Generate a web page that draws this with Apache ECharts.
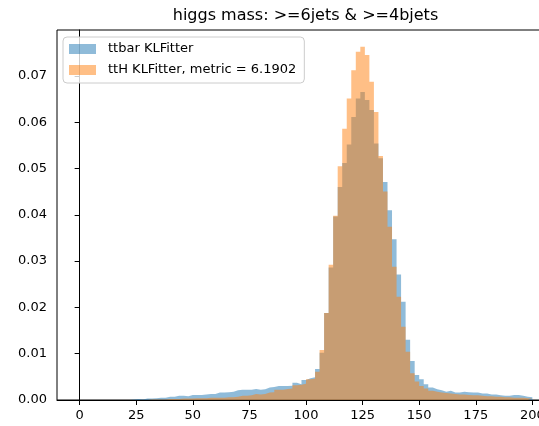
<!DOCTYPE html>
<html>
<head>
<meta charset="utf-8">
<script src="https://cdn.jsdelivr.net/npm/echarts@6/dist/echarts.min.js"></script>
<style>
html, body { margin:0; padding:0; width:539px; height:426px; overflow:hidden; background:#ffffff; }
#container { width:611px; height:426px; }
</style>
</head>
<body>
<div id="container"></div>
<script>
// histogram bins: 100 bins of width 2 from 0 to 200
var bin_start = 0;
var bin_width = 2;

// ttbar KLFitter, normalised bin heights
var ttbar = [
	0, 0, 0, 0, 0, 0, 0, 0, 0, 0,
	0, 0.0001, 0.0002, 0.0001, 0.0003, 0.0003, 0.0004, 0.0005, 0.0005, 0.0007,
	0.0007, 0.0009, 0.0009, 0.0008, 0.0011, 0.0011, 0.0011, 0.0012, 0.0013, 0.0013,
	0.0016, 0.0016, 0.0017, 0.0018, 0.0021, 0.0022, 0.0022, 0.0022, 0.0024, 0.0022,
	0.0023, 0.0027, 0.0028, 0.0030, 0.0030, 0.0030, 0.0031, 0.0037, 0.0034, 0.0043,
	0.0047, 0.0049, 0.0067, 0.0102, 0.0188, 0.0286, 0.0396, 0.0460, 0.0512, 0.0552,
	0.0611, 0.0651, 0.0665, 0.0648, 0.0626, 0.0554, 0.0522, 0.0471, 0.0410, 0.0347,
	0.0271, 0.0212, 0.0130, 0.0084, 0.0054, 0.0045, 0.0034, 0.0027, 0.0023, 0.0021,
	0.0018, 0.0020, 0.0016, 0.0016, 0.0018, 0.0017, 0.0016, 0.0016, 0.0014, 0.0014,
	0.0012, 0.0012, 0.0010, 0.0009, 0.0009, 0.0011, 0.0011, 0.0009, 0.0007, 0.0006
];

// ttH KLFitter
var tth = [
	0, 0, 0, 0, 0, 0, 0, 0, 0, 0,
	0, 0, 0, 0, 0, 0.0001, 0.0001, 0.0001, 0.0001, 0.0002,
	0.0002, 0.0002, 0.0003, 0.0003, 0.0003, 0.0004, 0.0004, 0.0004, 0.0005, 0.0005,
	0.0005, 0.0005, 0.0006, 0.0006, 0.0007, 0.0009, 0.0009, 0.0010, 0.0013, 0.0012,
	0.0013, 0.0016, 0.0017, 0.0022, 0.0022, 0.0024, 0.0025, 0.0032, 0.0033, 0.0035,
	0.0045, 0.0046, 0.0061, 0.0108, 0.0188, 0.0292, 0.0398, 0.0505, 0.0586, 0.0651,
	0.0712, 0.0752, 0.0763, 0.0745, 0.0687, 0.0622, 0.0527, 0.0450, 0.0374, 0.0288,
	0.0223, 0.0158, 0.0104, 0.0058, 0.0040, 0.0030, 0.0025, 0.0020, 0.0018, 0.0016,
	0.0015, 0.0014, 0.0013, 0.0012, 0.0012, 0.0011, 0.0010, 0.0010, 0.0009, 0.0008,
	0.0008, 0.0007, 0.0007, 0.0006, 0.0006, 0.0005, 0.0005, 0.0005, 0.0004, 0.0004
];

var series_names = ['ttbar KLFitter', 'ttH KLFitter, metric = 6.1902'];
var x_ticks = [0, 25, 50, 75, 100, 125, 150, 175, 200];
var y_ticks = [0, 0.01, 0.02, 0.03, 0.04, 0.05, 0.06, 0.07];

// step points: left edge of each bin, plus closing point at the last edge
function to_steps(values)
{
	var pts = [];
	for (var i = 0; i < values.length; i++) {
		pts.push([bin_start + i * bin_width, values[i]]);
	}
	pts.push([bin_start + values.length * bin_width, values[values.length - 1]]);
	return pts;
}

function hist_series(name, values, color)
{
	return {
		name: name,
		type: 'line',
		step: 'end',
		data: to_steps(values),
		color: color,
		symbol: 'none',
		showSymbol: false,
		lineStyle: { width: 0, opacity: 0 },
		areaStyle: { color: color, opacity: 1 },
		silent: true
	};
}

var font = 'DejaVu Sans';
var dom = document.getElementById('container');
var myChart = echarts.init(dom, null, { renderer: 'canvas' });
var option = {
	animation: false,
	backgroundColor: '#ffffff',
	title: {
		text: 'higgs mass: >=6jets & >=4bjets',
		left: 'center',
		top: 8,
		padding: 0,
		textStyle: { fontFamily: font, fontSize: 16, fontWeight: 'normal', color: '#000000' }
	},
	legend: {
		orient: 'vertical',
		left: 63,
		top: 37,
		padding: [5, 8, 6, 6],
		itemWidth: 27,
		itemHeight: 10,
		itemGap: 7,
		icon: 'rect',
		backgroundColor: 'rgba(255,255,255,0.8)',
		borderColor: '#cccccc',
		borderWidth: 1,
		borderRadius: 4,
		data: series_names,
		textStyle: { fontFamily: font, fontSize: 13, color: '#000000', lineHeight: 14, padding: [0, 0, 0, 7] }
	},
	grid: {
		show: true,
		left: 57,
		right: 56,
		top: 30,
		bottom: 26,
		borderColor: '#000000',
		borderWidth: 1,
		backgroundColor: 'transparent'
	},
	xAxis: {
		type: 'value',
		min: -10,
		max: 210,
		splitLine: { show: false },
		axisLine: { show: true, onZero: false, lineStyle: { color: '#000000' } },
		axisTick: { show: true, length: 5, customValues: x_ticks, lineStyle: { color: '#000000' } },
		axisLabel: {
			customValues: x_ticks,
			margin: 9,
			fontFamily: font,
			fontSize: 13,
			color: '#000000'
		}
	},
	yAxis: {
		type: 'value',
		min: 0,
		max: 0.0799,
		splitLine: { show: false },
		axisLine: { show: true, lineStyle: { color: '#000000' } },
		axisTick: { show: true, length: 5, customValues: y_ticks, lineStyle: { color: '#000000' } },
		axisLabel: {
			customValues: y_ticks,
			margin: 10,
			fontFamily: font,
			fontSize: 13,
			color: '#000000',
			formatter: function (v) { return v.toFixed(2); }
		}
	},
	series: [
		hist_series(series_names[0], ttbar, 'rgba(31,119,180,0.5)'),
		hist_series(series_names[1], tth, 'rgba(255,127,14,0.5)')
	]
};
myChart.setOption(option, true);
</script>
</body>
</html>
